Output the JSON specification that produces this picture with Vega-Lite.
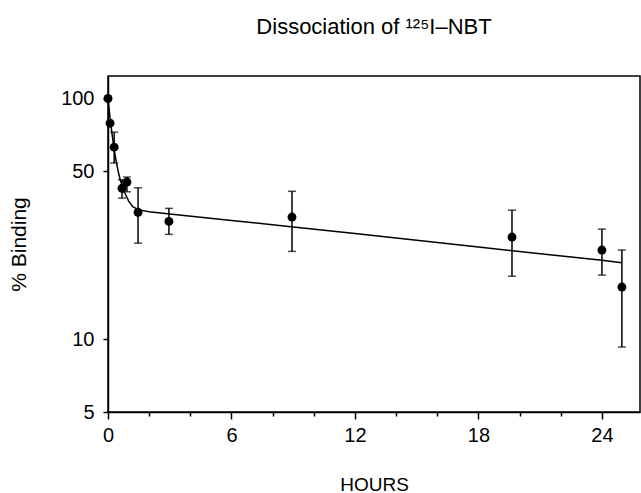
{
  "$schema": "https://vega.github.io/schema/vega-lite/v6.json",
  "width": 532,
  "height": 336,
  "autosize": "none",
  "padding": {"left": 108, "top": 76, "right": 1, "bottom": 81},
  "background": "white",
  "config": {
    "font": "Liberation Sans",
    "view": {"stroke": "black", "strokeWidth": 1.5},
    "axis": {"domainColor": "black", "domainWidth": 1.5, "tickColor": "black", "tickWidth": 1.5, "labelColor": "black", "titleColor": "black", "grid": false, "labelFont": "Liberation Sans", "titleFont": "Liberation Sans", "titleFontWeight": "normal"}
  },
  "title": {"text": "Dissociation of ¹²⁵I–NBT", "fontSize": 22, "fontWeight": "normal", "font": "Liberation Sans", "color": "black", "anchor": "middle", "baseline": "alphabetic", "offset": 20},
  "datasets": {
    "obs": [
      {"t": 0, "y": 100},
      {"t": 0.1, "y": 79},
      {"t": 0.3, "y": 62.8, "lo": 54, "hi": 72.5},
      {"t": 0.68, "y": 42.4, "lo": 38.6, "hi": 46},
      {"t": 0.92, "y": 45, "lo": 41, "hi": 47.2},
      {"t": 1.46, "y": 33.7, "lo": 25.1, "hi": 42.6},
      {"t": 2.96, "y": 30.9, "lo": 27.3, "hi": 35},
      {"t": 8.94, "y": 32.2, "lo": 23.2, "hi": 41.2},
      {"t": 19.63, "y": 26.6, "lo": 18.3, "hi": 34.4},
      {"t": 24, "y": 23.5, "lo": 18.5, "hi": 28.7},
      {"t": 24.97, "y": 16.5, "lo": 9.3, "hi": 23.5}
    ],
    "fit": [
      {"t": 0, "y": 100},
      {"t": 0.05, "y": 91.0},
      {"t": 0.1, "y": 83.2},
      {"t": 0.2, "y": 70.8},
      {"t": 0.3, "y": 61.5},
      {"t": 0.4, "y": 54.7},
      {"t": 0.5, "y": 49.6},
      {"t": 0.6, "y": 45.8},
      {"t": 0.8, "y": 40.8},
      {"t": 1.0, "y": 37.6},
      {"t": 1.2, "y": 35.6},
      {"t": 1.5, "y": 34.5},
      {"t": 2, "y": 33.9},
      {"t": 3, "y": 33.2},
      {"t": 6, "y": 31.2},
      {"t": 9, "y": 29.3},
      {"t": 12, "y": 27.5},
      {"t": 15, "y": 25.8},
      {"t": 18, "y": 24.2},
      {"t": 21, "y": 22.7},
      {"t": 24, "y": 21.3},
      {"t": 24.97, "y": 20.8}
    ]
  },
  "layer": [
    {
      "data": {"name": "fit"},
      "mark": {"type": "line", "color": "black", "strokeWidth": 1.5},
      "encoding": {
        "x": {"field": "t", "type": "quantitative", "scale": {"domain": [0, 25.85], "nice": false, "zero": false},
          "axis": {"title": "HOURS", "titleFontSize": 19, "titlePadding": 30, "values": [0,1,2,3,4,5,6,7,8,9,10,11,12,13,14,15,16,17,18,19,20,21,22,23,24,25],
            "labelExpr": "datum.value % 6 === 0 ? datum.label : ''", "labelFontSize": 20, "labelPadding": 6,
            "tickSize": {"expr": "datum.value % 6 === 0 ? 7 : 4"}, "labelFlush": false, "labelOverlap": false}},
        "y": {"field": "y", "type": "quantitative", "scale": {"type": "log", "domain": [5, 124], "nice": false},
          "axis": {"title": "% Binding", "titleFontSize": 21, "titlePadding": 31, "values": [5, 10, 50, 100], "labelFontSize": 20, "tickSize": 5, "labelPadding": 9}}
      }
    },
    {
      "data": {"name": "obs"},
      "mark": {"type": "errorbar", "ticks": {"size": 8, "thickness": 1.5, "color": "black"}, "rule": {"strokeWidth": 1.5, "color": "black"}},
      "encoding": {
        "x": {"field": "t", "type": "quantitative"},
        "y": {"field": "lo", "type": "quantitative", "title": "% Binding"},
        "y2": {"field": "hi"}
      }
    },
    {
      "data": {"name": "obs"},
      "mark": {"type": "point", "filled": true, "color": "black", "opacity": 1, "size": 80},
      "encoding": {
        "x": {"field": "t", "type": "quantitative"},
        "y": {"field": "y", "type": "quantitative", "title": "% Binding"}
      }
    }
  ]
}
